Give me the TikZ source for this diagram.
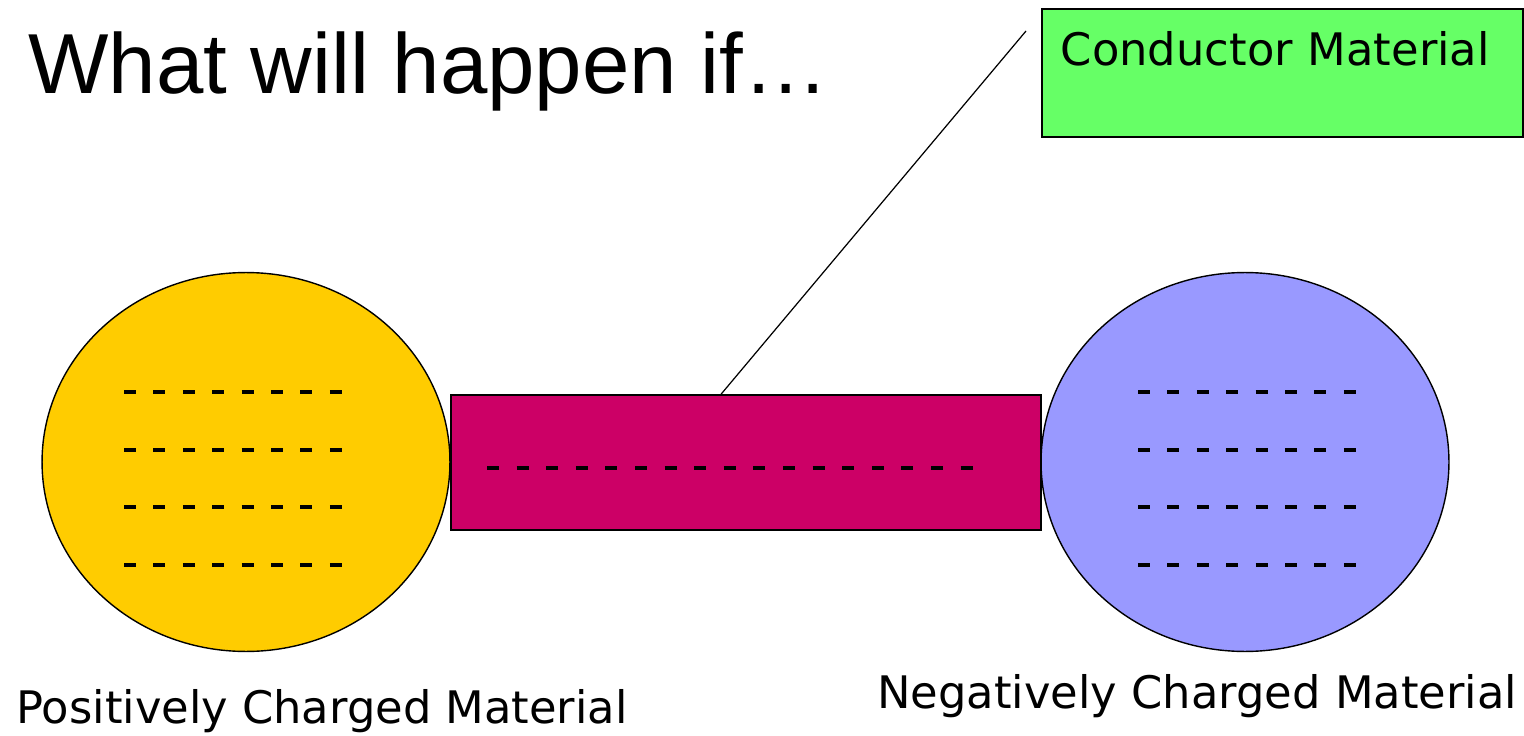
\documentclass[tikz,border=0pt]{standalone}
\usepackage{fontspec}
\setmainfont{Liberation Sans}
\newfontfamily\comicfont{DejaVu Sans}
\usepackage{tikz}
\usetikzlibrary{shapes.geometric}
\definecolor{ballgold}{HTML}{FFCC00}
\definecolor{ballblue}{HTML}{9999FF}
\definecolor{barpink}{HTML}{CC0066}
\definecolor{taggreen}{HTML}{66FF66}

\begin{document}
\begin{tikzpicture}[x=0.02cm,y=-0.02cm,
  ball/.style={draw,ellipse,line width=0.8pt,minimum width=8.16cm,minimum height=7.58cm,inner sep=0pt},
  mattext/.style={anchor=base west,inner sep=0pt,font=\comicfont\fontsize{25.5}{30}\selectfont},
  charge/.style={line width=2pt}]
  \useasboundingbox (0,0) rectangle (1524,736);
  \node[anchor=base west,inner sep=0pt,font=\fontsize{48.5}{58}\selectfont] (title) at (28,94) {What will happen if…};
  \node[ball,fill=ballgold] (posball) at (246,462) {};
  \node[ball,fill=ballblue] (negball) at (1245,462) {};
  \node[draw,fill=barpink,line width=1pt,minimum width=11.8cm,minimum height=2.7cm,inner sep=0pt] (bar) at (746,462.5) {};
  \node[draw,fill=taggreen,line width=1pt,anchor=north west,inner xsep=0.38cm,inner ysep=0pt,
    text height=1.14cm,text depth=1.42cm,text width=8.86cm,align=left,
    font=\comicfont\fontsize{25.5}{30}\selectfont] (tag) at (1041,8) {Conductor Material};
  % charges
  \foreach \row in {392,450,507,565} {
    \foreach \k in {0,...,7} {
      \draw[charge] (124+\k*29.4,\row) -- ++(12,0);
      \draw[charge] (1138+\k*29.4,\row) -- ++(12,0);
    }
  }
  \foreach \k in {0,...,16}
    \draw[charge] (487+\k*29.6,468) -- ++(12,0);
  \node[mattext] (poslbl) at (16,723) {Positively Charged Material};
  \node[mattext] (neglbl) at (877,708) {Negatively Charged Material};
  \coordinate (tagend) at (1026,31);
  \draw[line width=0.7pt] (tagend) -- (bar.110);
\end{tikzpicture}
\end{document}
